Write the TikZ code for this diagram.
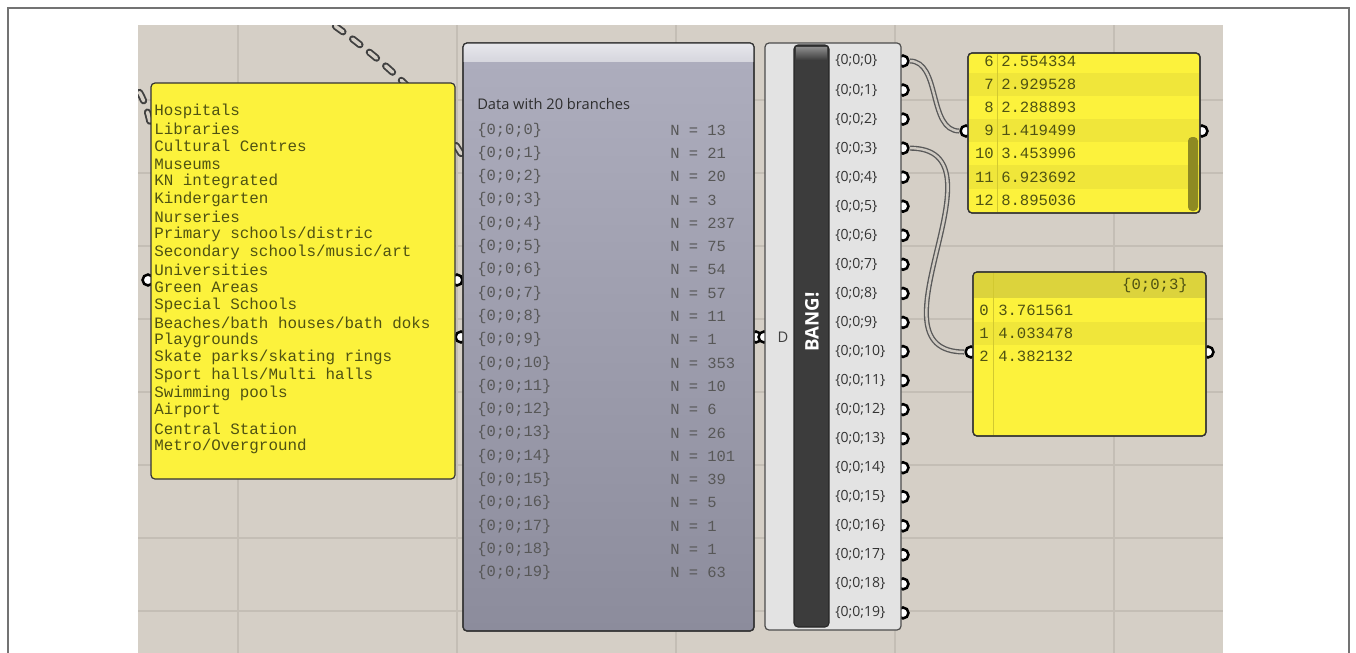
\documentclass[tikz,border=0pt]{standalone}
\usepackage{fontspec}
\setmainfont{Open Sans}
\setmonofont{Liberation Mono}
\usetikzlibrary{positioning}

\definecolor{canvas}{HTML}{D5CFC6}
\definecolor{gridln}{HTML}{C4BEB5}
\definecolor{panelyel}{HTML}{FCF23C}
\definecolor{stripeyel}{HTML}{F0E63A}
\definecolor{sepyel}{HTML}{D2C930}
\definecolor{headyel}{HTML}{DCD33C}
\definecolor{scrollc}{HTML}{8E8A22}
\definecolor{olive}{HTML}{4F5212}
\definecolor{viewtop}{HTML}{AEAEBE}
\definecolor{viewbot}{HTML}{8C8C9C}
\definecolor{viewhead}{HTML}{E8E8EC}
\definecolor{compgray}{HTML}{E3E3E3}
\definecolor{bangbar}{HTML}{3C3C3C}
\definecolor{wirein}{HTML}{CFCAC2}

\tikzset{
  grip/.style={circle,draw=black,fill=white,line width=1.9pt,inner sep=0pt,minimum size=8.2pt},
  wire/.style={draw=black!65,double=wirein,double distance=1.8pt,line width=1pt},
  hidwire/.style={draw=black!75,line cap=round,line width=5.4pt,dash pattern=on 7pt off 9pt,
    postaction={draw=canvas,line width=2.6pt,dash pattern=on 7pt off 9pt}},
  ypanel/.style={fill=panelyel,draw=black!80,line width=0.9pt,rounded corners=3pt},
  listtxt/.style={font=\ttfamily\fontsize{11.9}{13}\selectfont,text=olive,anchor=west,inner sep=0pt},
  valtxt/.style={font=\ttfamily\fontsize{11.7}{13}\selectfont,text=olive,inner sep=0pt},
  brtxt/.style={font=\ttfamily\fontsize{11.6}{13}\selectfont,text=black!66,anchor=west,inner sep=0pt},
  outlbl/.style={font=\fontsize{10.5}{12}\selectfont,text=black!80,anchor=west,inner sep=0pt}
}

\begin{document}
\begin{tikzpicture}[x=0.75pt,y=-0.75pt]
\useasboundingbox (0,0) rectangle (1356,653);
\draw[black!55,line width=1pt] (8,660) |- (1349,8) -- (1349,660);
\fill[canvas] (138,25) rectangle (1223,653);
\foreach \gx in {238,457,676,895,1114}
  \draw[gridln,line width=0.8pt] (\gx,25) -- (\gx,653);
\foreach \gy in {100,173,246,319,392,465,538,611}
  \draw[gridln,line width=0.8pt] (138,\gy) -- (1223,\gy);

\begin{scope}
\clip (138,25) rectangle (1223,653);
\draw[hidwire] (318,14) .. controls (385,60) and (440,110) .. (470,170);
\draw[hidwire] (126,76) .. controls (140,88) and (146,104) .. (150,122);
\end{scope}

% grips
\node[grip] (lin) at (148,280) {};
\node[grip] (lout) at (457,280) {};
\node[grip] (vin) at (461,337) {};
\node[grip] (vout) at (756,337) {};
\node[grip] (ein) at (764,337) {};
\foreach \i in {0,...,19}
  \node[grip] (o\i) at (903,{61+29.05*\i}) {};
\node[grip] (p1in) at (966,131) {};
\node[grip] (p1out) at (1202,131) {};
\node[grip] (p2in) at (971,352) {};
\node[grip] (p2out) at (1208,352) {};

\draw[wire] (o0) .. controls +(38,0) and +(-38,0) .. (p1in);
\draw[wire] (o3) .. controls +(110,0) and +(-110,0) .. (p2in);

% list panel
\draw[ypanel] (151,83) rectangle (455,479);
\foreach \name [count=\i from 0] in {Hospitals,Libraries,Cultural Centres,Museums,KN integrated,Kindergarten,Nurseries,Primary schools/distric,Secondary schools/music/art,Universities,Green Areas,Special Schools,Beaches/bath houses/bath doks,Playgrounds,Skate parks/skating rings,Sport halls/Multi halls,Swimming pools,Airport,Central Station,Metro/Overground}
  \node[listtxt] (item\i) at (154,{111+17.63*\i}) {\name};

% param viewer
\draw[draw=black!80,line width=0.9pt,rounded corners=3pt,top color=viewtop,bottom color=viewbot] (463,43) rectangle (754,631);
\begin{scope}
\clip[rounded corners=3pt] (463,43) rectangle (754,631);
\fill[top color=viewhead,bottom color=viewhead!70!viewtop] (463,43) rectangle (754,61);
\end{scope}
\draw[black!80,line width=0.9pt,rounded corners=3pt] (463,43) rectangle (754,631);
\node[font=\fontsize{11}{13}\selectfont,text=black!82,anchor=west,inner sep=0pt] (title) at (477,104) {Data with 20 branches};
\foreach \n [count=\i from 0] in {13,21,20,3,237,75,54,57,11,1,353,10,6,26,101,39,5,1,1,63} {
  \node[brtxt] (br\i) at (477,{130+23.3*\i}) {\{0;0;\i\}};
  \node[brtxt] (cnt\i) at (670,{130+23.3*\i}) {N = \n};
}

% explode tree
\draw[fill=compgray,draw=black!70,line width=0.9pt,rounded corners=3pt] (765,43) rectangle (901,630);
\draw[fill=bangbar,draw=black!85,line width=0.8pt,rounded corners=3pt] (794,45) rectangle (829,627);
\fill[top color=black!45,bottom color=bangbar] (796,47) rectangle (827,60);
\node[font=\bfseries\fontsize{14}{16}\selectfont,text=white,rotate=90,inner sep=0pt] (bang) at (812,322) {BANG!};
\node[font=\fontsize{11}{13}\selectfont,text=black!75,inner sep=0pt] (dlbl) at (783,337) {D};
\foreach \i in {0,...,19}
  \node[outlbl] (lbl\i) at (835,{61+29.05*\i}) {\{0;0;\i\}};

% panel 1
\draw[ypanel] (968,53) rectangle (1200,213);
\foreach \r in {1,3,5}
  \fill[stripeyel] (969,{61+23.2*\r-11.6}) rectangle (1199,{61+23.2*\r+11.6});
\draw[sepyel,line width=0.7pt] (997,54) -- (997,212);
\fill[scrollc,rounded corners=3pt] (1188,137) rectangle (1198,211);
\draw[black!80,line width=0.9pt,rounded corners=3pt] (968,53) rectangle (1200,213);
\foreach \v [count=\r from 0] in {2.554334,2.929528,2.288893,1.419499,3.453996,6.923692,8.895036} {
  \pgfmathtruncatemacro{\idx}{\r+6}
  \node[valtxt,anchor=east] (ia\r) at (994,{61+23.2*\r}) {\idx};
  \node[valtxt,anchor=west] (va\r) at (1001,{61+23.2*\r}) {\v};
}

% panel 2
\draw[ypanel] (973,272) rectangle (1206,436);
\fill[headyel] (974,273) rectangle (1205,298);
\fill[stripeyel] (974,322) rectangle (1205,345);
\draw[sepyel,line width=0.7pt] (993,273) -- (993,435);
\draw[black!80,line width=0.9pt,rounded corners=3pt] (973,272) rectangle (1206,436);
\node[valtxt,anchor=east] (head) at (1188,285) {\{0;0;3\}};
\foreach \v [count=\r from 0] in {3.761561,4.033478,4.382132} {
  \node[valtxt,anchor=east] (ib\r) at (989,{310+23.2*\r}) {\r};
  \node[valtxt,anchor=west] (vb\r) at (998,{310+23.2*\r}) {\v};
}
\end{tikzpicture}
\end{document}
